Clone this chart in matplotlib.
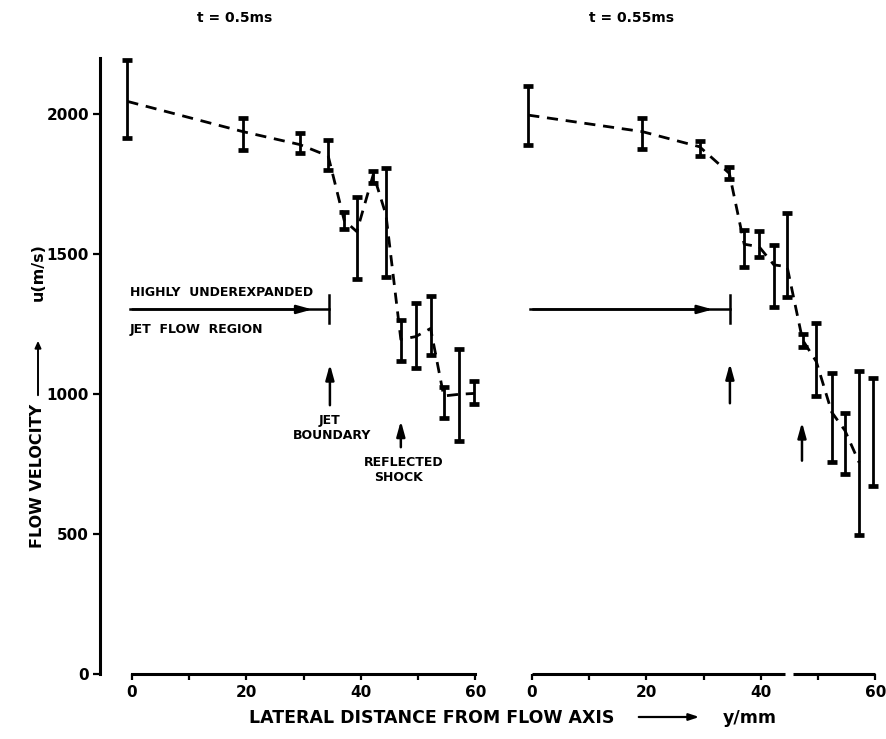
import matplotlib
matplotlib.use("Agg")
import matplotlib.pyplot as plt
import numpy as np

plt.rcParams['font.family'] = ['DejaVu Sans']
plt.rcParams['font.weight'] = 'bold'

# t = 0.5 ms
x_a = [-0.8, 19.4, 29.3, 34.3, 37.1, 39.3, 42.2, 44.4, 47.0, 49.6, 52.2, 54.5, 57.2, 59.8]
u_a = [2045, 1937, 1891, 1850, 1620, 1580, 1785, 1640, 1195, 1205, 1234, 993, 999, 1002]
lo_a = [1915, 1871, 1862, 1800, 1589, 1410, 1752, 1419, 1119, 1092, 1139, 913, 831, 963]
hi_a = [2193, 1985, 1931, 1907, 1651, 1705, 1798, 1806, 1264, 1324, 1351, 1024, 1161, 1046]

# t = 0.55 ms
x_b = [-0.65, 19.3, 29.3, 34.5, 37.1, 39.7, 42.3, 44.6, 47.3, 49.7, 52.4, 54.7, 57.2, 59.7]
u_b = [1996, 1937, 1883, 1788, 1535, 1526, 1461, 1455, 1193, 1116, 935, 870, 755, 865]
lo_b = [1889, 1876, 1850, 1767, 1452, 1488, 1310, 1348, 1169, 993, 758, 714, 496, 672]
hi_b = [2100, 1987, 1905, 1812, 1586, 1582, 1532, 1645, 1214, 1255, 1074, 933, 1083, 1056]

x_ticks = [0, 20, 40, 60]
x_minor = [10, 30, 50]
y_ticks = [0, 500, 1000, 1500, 2000]

W, H = 887, 739
fig = plt.figure(figsize=(W / 100, H / 100), dpi=100)

def fx(px):
    return px / W

def fy(py):
    return 1 - py / H

XLIM = ((100 - 132) / 5.72, (480 - 132) / 5.72)
YLIM = (0, 2200)
bottom = fy(674)
height = 616 / H

ax1 = fig.add_axes([fx(100), bottom, 380 / W, height])
ax2 = fig.add_axes([fx(500), bottom, 380 / W, height])

for ax in (ax1, ax2):
    ax.set_xlim(*XLIM)
    ax.set_ylim(*YLIM)
    ax.spines['top'].set_visible(False)
    ax.spines['right'].set_visible(False)
    ax.set_xticks(x_ticks)
    ax.set_xticks(x_minor, minor=True)
    ax.set_xticklabels([str(t) for t in x_ticks], fontsize=11, fontweight='bold')
    ax.tick_params(axis='x', which='both', direction='out', length=4, width=1.6, pad=4)
    ax.patch.set_alpha(0)

ax1.spines['bottom'].set_bounds(0, 60)
ax1.spines['bottom'].set_linewidth(2.2)
ax1.spines['left'].set_bounds(0, 2200)
ax1.spines['left'].set_linewidth(2.2)
ax1.set_yticks(y_ticks)
ax1.set_yticklabels([str(t) for t in y_ticks], fontsize=11, fontweight='bold')
ax1.tick_params(axis='y', direction='out', length=5, width=1.6, pad=3)

ax2.spines['left'].set_visible(False)
ax2.spines['bottom'].set_visible(False)
ax2.set_yticks([])
tr = ax2.get_xaxis_transform()
for seg in [(0, 44.2), (45.6, 60)]:
    ax2.plot(seg, [0, 0], color='k', lw=2.2, transform=tr, clip_on=False,
             solid_capstyle='butt')

def draw_series(ax, x, u, lo, hi, n_line):
    x = np.asarray(x)
    u = np.asarray(u)
    lo = np.asarray(lo)
    hi = np.asarray(hi)
    ax.errorbar(x, u, yerr=[u - lo, hi - u], fmt='none', ecolor='k',
                elinewidth=2.0, capsize=3.8, capthick=3.4)
    ax.plot(x[:n_line], u[:n_line], color='k', lw=2.0, ls=(0, (4, 2.8)))

draw_series(ax1, x_a, u_a, lo_a, hi_a, len(x_a))
draw_series(ax2, x_b, u_b, lo_b, hi_b, len(x_b) - 1)

arrow_kw = dict(arrowstyle='-|>,head_length=0.9,head_width=0.25', color='k', lw=1.8)

# jet flow region marker
for ax, x0, xend in [(ax1, -0.4, 34.5), (ax2, -0.3, 34.6)]:
    ax.annotate('', xy=(xend - 2.5, 1302), xytext=(x0, 1302), arrowprops=arrow_kw)
    ax.plot([x0, xend], [1302, 1302], color='k', lw=1.8)
    ax.plot([xend, xend], [1255, 1352], color='k', lw=1.8)

# boundary / shock arrows
for ax, xa, ytip, ybase in [(ax1, 34.6, 1116, 950), (ax1, 47.0, 914, 800),
                            (ax2, 34.6, 1119, 957), (ax2, 47.2, 909, 752)]:
    ax.annotate('', xy=(xa, ytip), xytext=(xa, ybase), arrowprops=arrow_kw)

txt = dict(fontsize=9, fontweight='bold', color='k')
ax1.text(-0.4, 1364, 'HIGHLY  UNDEREXPANDED', ha='left', va='center', **txt)
ax1.text(-0.4, 1232, 'JET  FLOW  REGION', ha='left', va='center', **txt)
ax1.text(34.6, 907, 'JET', ha='center', va='center', **txt)
ax1.text(35.0, 850, 'BOUNDARY', ha='center', va='center', **txt)
ax1.text(47.5, 757, 'REFLECTED', ha='center', va='center', **txt)
ax1.text(46.6, 700, 'SHOCK', ha='center', va='center', **txt)

# panel titles
fig.text(fx(235), fy(18), 't = 0.5ms', ha='center', va='center', fontsize=10, fontweight='bold')
fig.text(fx(632), fy(18), 't = 0.55ms', ha='center', va='center', fontsize=10, fontweight='bold')

# y-axis label
fig.text(fx(38), fy(476), 'FLOW VELOCITY', rotation=90, ha='center', va='center',
         fontsize=11.5, fontweight='bold')
fig.text(fx(38), fy(272), 'u(m/s)', rotation=90, ha='center', va='center',
         fontsize=11.5, fontweight='bold')
fig.add_artist(matplotlib.patches.FancyArrowPatch(
    (fx(38), fy(398)), (fx(38), fy(338)), transform=fig.transFigure,
    arrowstyle='-|>,head_length=4,head_width=1.8', color='k', lw=1.4))

# x-axis label
fig.text(fx(432), fy(718), 'LATERAL DISTANCE FROM FLOW AXIS', ha='center', va='center',
         fontsize=12.5, fontweight='bold')
fig.text(fx(750), fy(718), 'y/mm', ha='center', va='center',
         fontsize=12.5, fontweight='bold')
fig.add_artist(matplotlib.patches.FancyArrowPatch(
    (fx(636), fy(717)), (fx(702), fy(717)), transform=fig.transFigure,
    arrowstyle='-|>,head_length=6,head_width=2', color='k', lw=1.6))

fig.savefig('out.png', dpi=100)
